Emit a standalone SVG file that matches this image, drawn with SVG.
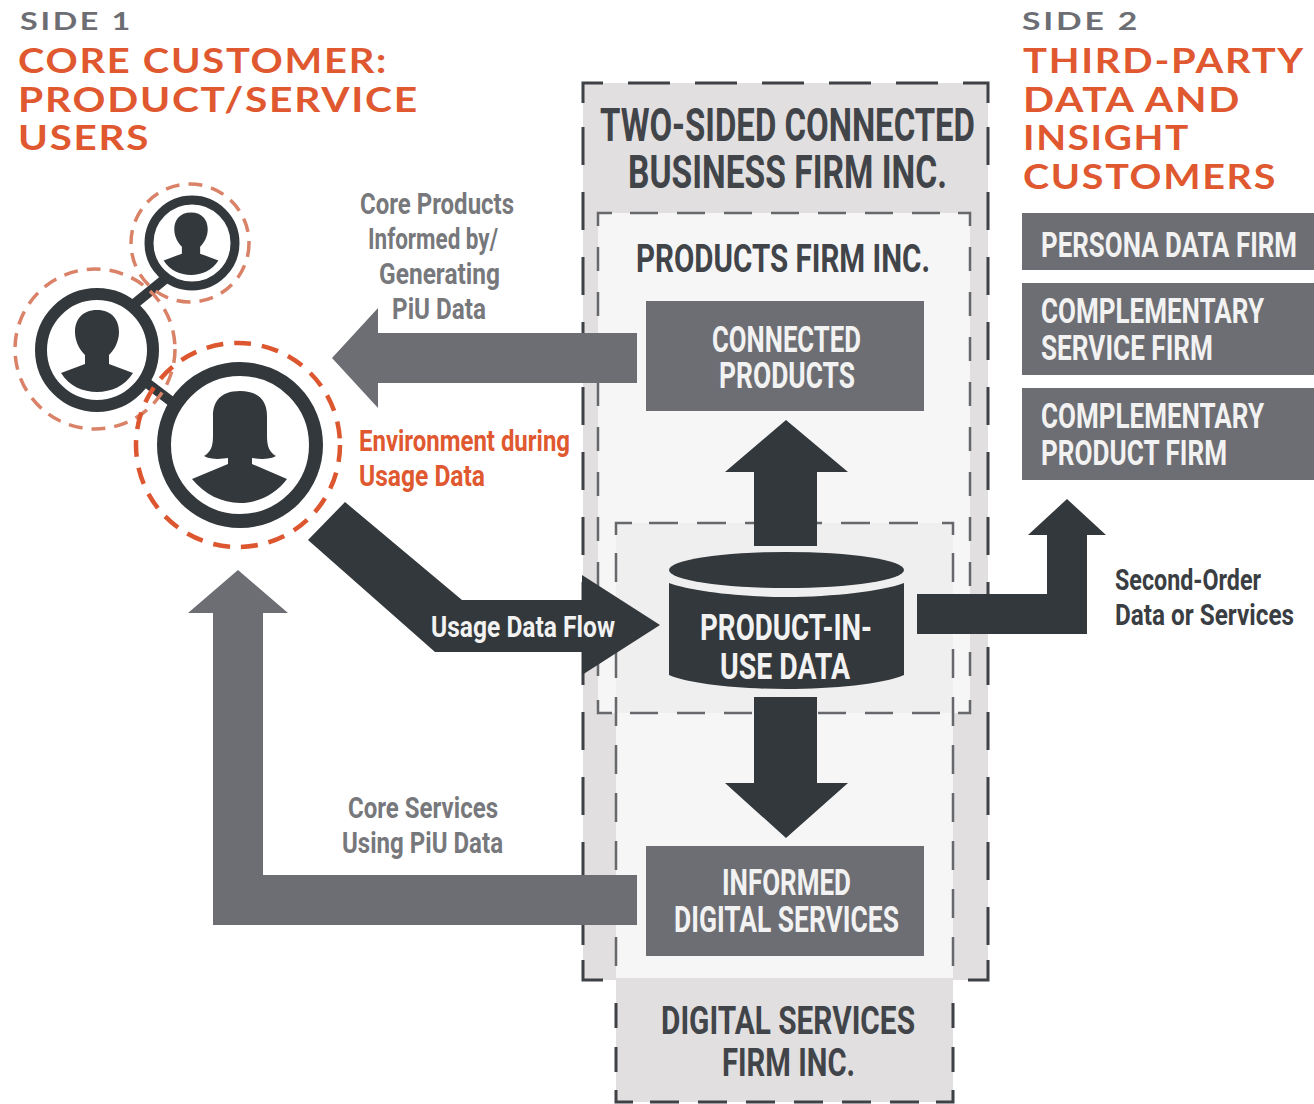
<svg xmlns="http://www.w3.org/2000/svg" xmlns:xlink="http://www.w3.org/1999/xlink" width="1314" height="1104" viewBox="0 0 1314 1104">
<style>
text{font-family:"Roboto","Liberation Sans",sans-serif;font-weight:700;text-anchor:start}
.h{font-family:"Lato","Open Sans",sans-serif;font-size:35px;font-weight:700;fill:#e0582f;letter-spacing:1.5px}
.s{font-family:"Lato","Open Sans",sans-serif;font-size:24px;font-weight:700;fill:#6d6e73;letter-spacing:2px}
.big{font-size:46px;fill:#414449}
.mid{font-size:38px;fill:#414449}
.box{fill:#6d6e73}
.w{font-size:36px;fill:#f2f2f2}
.n{font-size:28px;fill:#f2f2f2}
.g{font-size:29px;fill:#77787c}
.o{font-size:29px;fill:#e0582f}
.d{font-size:29px;fill:#3a3e42}
.ring{fill:#fff;stroke:#33383c}
.pale{fill:none;stroke:#d98268;stroke-width:3.5;stroke-dasharray:14 9}
.lg{fill:#6d6e73}.dk{fill:#33383c}
.e1{fill:none;stroke:#3e4145;stroke-width:3}
.e2{fill:none;stroke:#66686c;stroke-width:2.500}
</style>
<defs>
<path id="man" d="M0-40C-15-40-22-30-22-18C-22-8-17 0-12 5L-12 14L-36 23C-28 36-14 42 0 42C14 42 28 36 36 23L12 14L12 5C17 0 22-8 22-18C22-30 15-40 0-40Z" fill="#33383c"/>
</defs>
<rect width="1314" height="1104" fill="#fff"/>
<g id="firm-two-sided">
<rect x="583" y="83" width="405" height="897" fill="#e1dfdf"/>
<path class="e1" d="M583 103V83H603M968 83H988V103M583 960V980H603M968 980H988V960"/>
<path class="e1" stroke-dasharray="42 25" d="M628 83H968"/>
<path class="e1" stroke-dasharray="38 27" d="M583 127V950M988 127V950"/>
<text class="big" x="600" y="141" textLength="375" lengthAdjust="spacingAndGlyphs">TWO-SIDED CONNECTED</text>
<text class="big" x="628" y="188" textLength="319" lengthAdjust="spacingAndGlyphs">BUSINESS FIRM INC.</text>
</g>
<g id="firm-products">
<rect x="598" y="213" width="372" height="500" fill="#f6f6f7"/>
<text class="mid" x="636" y="272" textLength="294" lengthAdjust="spacingAndGlyphs">PRODUCTS FIRM INC.</text>
</g>
<g id="firm-digital">
<rect x="616" y="713" width="337" height="265" fill="#f6f6f7"/>
<rect x="616" y="523" width="337" height="190" fill="#f0eff0"/>
<rect x="616" y="978" width="337" height="124" fill="#e1dfdf"/>
<path class="e2" d="M598 226V213H612M958 213H970V226M598 700V713H612M958 713H970V700"/>
<path class="e2" stroke-dasharray="28 19" d="M630 213H958M630 713H958"/>
<path class="e2" stroke-dasharray="24 21" d="M598 247V695M970 247V695"/>
<path class="e2" d="M616 535V523H632M942 523H953V535"/>
<path class="e2" stroke-dasharray="29 19" d="M649 523H935M616 553V983M953 553V983"/>
<path class="e1" stroke-dasharray="25 19" d="M616 1003V1075M953 1003V1075"/>
<path class="e1" d="M616 1090V1102H633M936 1102H953V1090"/>
<path class="e1" stroke-dasharray="29 19" d="M650 1102H925"/>
<text class="mid" x="661" y="1034" textLength="254" lengthAdjust="spacingAndGlyphs">DIGITAL SERVICES</text>
<text class="mid" x="722" y="1076" textLength="133" lengthAdjust="spacingAndGlyphs">FIRM INC.</text>
</g>
<g id="connectors">
<path class="lg" d="M637 333V383H378V408L332 358L378 308V333Z"/>
<path class="dk" d="M754 546V472H725L786 420L848 472H817V546Z"/>
<path class="dk" d="M754 697V783H725L786 838L848 783H817V697Z"/>
<path class="dk" d="M917 594H1047V535H1028L1067 499L1106 535H1087V634H917Z"/>
<path class="dk" d="M345 502L308 540L435 652H582V675L660 625L582 575V600H462Z"/>
<path class="lg" d="M637 875V925H213V613H188L238 570L288 613H263V875Z"/>
<path d="M133 305L165 279M147 383L172 402" stroke="#33383c" stroke-width="10" fill="none"/>
</g>
<g id="user-small">
<circle class="pale" cx="190" cy="243" r="59"/>
<circle class="ring" cx="192" cy="243" r="43" stroke-width="9"/>
<use xlink:href="#man" href="#man" transform="translate(191 243) scale(.76)"/>
</g>
<g id="user-middle">
<circle class="pale" cx="95" cy="349" r="80"/>
<circle class="ring" cx="97" cy="350" r="56" stroke-width="12"/>
<use xlink:href="#man" href="#man" transform="translate(97 350)"/>
</g>
<g id="user-main">
<circle cx="238" cy="445" r="102" fill="none" stroke="#dc5730" stroke-width="4.500" stroke-dasharray="17 11"/>
<circle class="ring" cx="240" cy="445" r="76" stroke-width="14"/>
<path d="M240 391C220 391 213 402 213 416V436C213 446 211 452 204 456C211 460 222 459 228 458V464L192 479C204 494 222 503 240 503C258 503 276 494 287 479L252 464V458C258 459 269 460 276 456C269 452 267 446 267 436V416C267 402 260 391 240 391Z" fill="#33383c"/>
</g>
<g id="node-connected-products">
<rect class="box" x="646" y="301" width="278" height="110"/>
<text class="w" x="712" y="352" textLength="149" lengthAdjust="spacingAndGlyphs">CONNECTED</text>
<text class="w" x="719" y="388" textLength="136" lengthAdjust="spacingAndGlyphs">PRODUCTS</text>
</g>
<g id="node-informed-services">
<rect class="box" x="646" y="846" width="278" height="110"/>
<text class="w" x="722" y="895" textLength="129" lengthAdjust="spacingAndGlyphs">INFORMED</text>
<text class="w" x="674" y="932" textLength="225" lengthAdjust="spacingAndGlyphs">DIGITAL SERVICES</text>
</g>
<g id="node-piu-data">
<ellipse cx="786.500" cy="570" rx="117.500" ry="18" fill="#33383c"/>
<path d="M669 583C690 591 740 597 786 597C833 597 883 591 904 583V675C883 684 833 689 786 689C740 689 690 684 669 675Z" fill="#33383c"/>
<text class="w" x="700" y="640" textLength="172" lengthAdjust="spacingAndGlyphs">PRODUCT-IN-</text>
<text class="w" x="720" y="679" textLength="130" lengthAdjust="spacingAndGlyphs">USE DATA</text>
</g>
<g id="node-persona">
<rect class="box" x="1022" y="213" width="292" height="57"/>
<text class="n" transform="translate(1041 257) scale(1 1.280)" textLength="256" lengthAdjust="spacingAndGlyphs">PERSONA DATA FIRM</text>
</g>
<g id="node-complementary-service">
<rect class="box" x="1022" y="283" width="292" height="92"/>
<text class="n" transform="translate(1041 323) scale(1 1.280)" textLength="223" lengthAdjust="spacingAndGlyphs">COMPLEMENTARY</text>
<text class="n" transform="translate(1041 360) scale(1 1.280)" textLength="172" lengthAdjust="spacingAndGlyphs">SERVICE FIRM</text>
</g>
<g id="node-complementary-product">
<rect class="box" x="1022" y="388" width="292" height="92"/>
<text class="n" transform="translate(1041 428) scale(1 1.280)" textLength="223" lengthAdjust="spacingAndGlyphs">COMPLEMENTARY</text>
<text class="n" transform="translate(1041 465) scale(1 1.280)" textLength="186" lengthAdjust="spacingAndGlyphs">PRODUCT FIRM</text>
</g>
<g id="labels">
<text class="s" x="20" y="30" textLength="113" lengthAdjust="spacingAndGlyphs">SIDE 1</text>
<text class="h" x="18" y="73" textLength="370" lengthAdjust="spacingAndGlyphs">CORE CUSTOMER:</text>
<text class="h" x="18" y="112" textLength="401" lengthAdjust="spacingAndGlyphs">PRODUCT/SERVICE</text>
<text class="h" x="18" y="150" textLength="132" lengthAdjust="spacingAndGlyphs">USERS</text>
<text class="s" x="1022" y="30" textLength="118" lengthAdjust="spacingAndGlyphs">SIDE 2</text>
<text class="h" x="1023" y="73" textLength="282" lengthAdjust="spacingAndGlyphs">THIRD-PARTY</text>
<text class="h" x="1023" y="112" textLength="218" lengthAdjust="spacingAndGlyphs">DATA AND</text>
<text class="h" x="1023" y="150" textLength="167" lengthAdjust="spacingAndGlyphs">INSIGHT</text>
<text class="h" x="1023" y="189" textLength="254" lengthAdjust="spacingAndGlyphs">CUSTOMERS</text>
<text class="g" x="360" y="214" textLength="154" lengthAdjust="spacingAndGlyphs">Core Products</text>
<text class="g" x="368" y="249" textLength="130" lengthAdjust="spacingAndGlyphs">Informed by/</text>
<text class="g" x="379" y="284" textLength="121" lengthAdjust="spacingAndGlyphs">Generating</text>
<text class="g" x="392" y="319" textLength="94" lengthAdjust="spacingAndGlyphs">PiU Data</text>
<text class="o" x="359" y="451" textLength="211" lengthAdjust="spacingAndGlyphs">Environment during</text>
<text class="o" x="359" y="486" textLength="126" lengthAdjust="spacingAndGlyphs">Usage Data</text>
<text class="w" style="font-size:29px" x="431" y="637" textLength="184" lengthAdjust="spacingAndGlyphs">Usage Data Flow</text>
<text class="d" x="1115" y="590" textLength="146" lengthAdjust="spacingAndGlyphs">Second-Order</text>
<text class="d" x="1115" y="625" textLength="179" lengthAdjust="spacingAndGlyphs">Data or Services</text>
<text class="g" x="348" y="818" textLength="150" lengthAdjust="spacingAndGlyphs">Core Services</text>
<text class="g" x="342" y="853" textLength="161" lengthAdjust="spacingAndGlyphs">Using PiU Data</text>
</g>
</svg>
